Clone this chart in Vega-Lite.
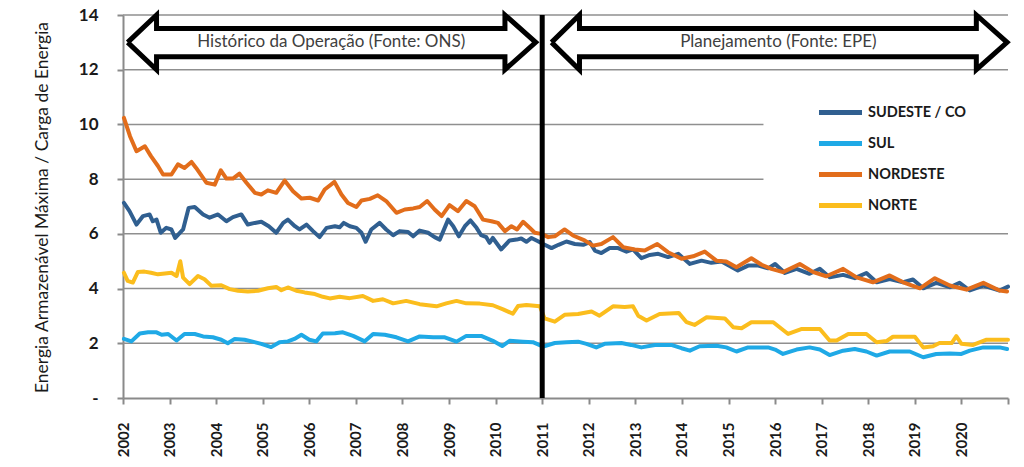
{
  "$schema": "https://vega.github.io/schema/vega-lite/v6.json",
  "width": 885,
  "height": 383,
  "autosize": {"type": "none"},
  "padding": {"left": 123, "top": 15, "right": 16, "bottom": 69},
  "background": "white",
  "config": {"view": {"stroke": null}, "font": "Lato"},
  "datasets": {
    "grid": [
      {"v": 14, "t": 2002, "t2": 2021},
      {"v": 12, "t": 2002, "t2": 2021},
      {"v": 10, "t": 2002, "t2": 2015.75},
      {"v": 8, "t": 2002, "t2": 2015.75},
      {"v": 6, "t": 2002, "t2": 2021},
      {"v": 4, "t": 2002, "t2": 2021},
      {"v": 2, "t": 2002, "t2": 2021}
    ],
    "arrows": [
      {"k": "A", "i": 0, "t": 2002.1, "v": 13},
      {"k": "A", "i": 1, "t": 2002.72, "v": 14},
      {"k": "A", "i": 2, "t": 2002.72, "v": 13.51},
      {"k": "A", "i": 3, "t": 2010.2, "v": 13.51},
      {"k": "A", "i": 4, "t": 2010.2, "v": 14},
      {"k": "A", "i": 5, "t": 2010.86, "v": 13},
      {"k": "A", "i": 6, "t": 2010.2, "v": 12},
      {"k": "A", "i": 7, "t": 2010.2, "v": 12.47},
      {"k": "A", "i": 8, "t": 2002.72, "v": 12.47},
      {"k": "A", "i": 9, "t": 2002.72, "v": 12},
      {"k": "A", "i": 10, "t": 2002.1, "v": 13},
      {"k": "B", "i": 0, "t": 2011.2, "v": 13},
      {"k": "B", "i": 1, "t": 2011.8, "v": 14},
      {"k": "B", "i": 2, "t": 2011.8, "v": 13.51},
      {"k": "B", "i": 3, "t": 2020.32, "v": 13.51},
      {"k": "B", "i": 4, "t": 2020.32, "v": 14},
      {"k": "B", "i": 5, "t": 2020.98, "v": 13},
      {"k": "B", "i": 6, "t": 2020.32, "v": 12},
      {"k": "B", "i": 7, "t": 2020.32, "v": 12.47},
      {"k": "B", "i": 8, "t": 2011.8, "v": 12.47},
      {"k": "B", "i": 9, "t": 2011.8, "v": 12},
      {"k": "B", "i": 10, "t": 2011.2, "v": 13}
    ],
    "labels": [
      {"t": 2006.47, "v": 13.02, "txt": "Histórico da Operação (Fonte: ONS)"},
      {"t": 2016.07, "v": 13.02, "txt": "Planejamento (Fonte: EPE)"}
    ],
    "divider": [{"t": 2011, "v": 0, "v2": 14}],
    "series": [
      {"s":"SUDESTE / CO","t":2002.02,"v":7.13},{"s":"SUDESTE / CO","t":2002.14,"v":6.83},{"s":"SUDESTE / CO","t":2002.29,"v":6.34},{"s":"SUDESTE / CO","t":2002.43,"v":6.65},{"s":"SUDESTE / CO","t":2002.57,"v":6.71},{"s":"SUDESTE / CO","t":2002.64,"v":6.46},{"s":"SUDESTE / CO","t":2002.72,"v":6.52},{"s":"SUDESTE / CO","t":2002.81,"v":6.04},{"s":"SUDESTE / CO","t":2002.93,"v":6.22},{"s":"SUDESTE / CO","t":2003.04,"v":6.16},{"s":"SUDESTE / CO","t":2003.12,"v":5.85},{"s":"SUDESTE / CO","t":2003.29,"v":6.16},{"s":"SUDESTE / CO","t":2003.41,"v":6.95},{"s":"SUDESTE / CO","t":2003.54,"v":6.98},{"s":"SUDESTE / CO","t":2003.72,"v":6.71},{"s":"SUDESTE / CO","t":2003.86,"v":6.59},{"s":"SUDESTE / CO","t":2004.04,"v":6.71},{"s":"SUDESTE / CO","t":2004.22,"v":6.46},{"s":"SUDESTE / CO","t":2004.36,"v":6.61},{"s":"SUDESTE / CO","t":2004.54,"v":6.71},{"s":"SUDESTE / CO","t":2004.68,"v":6.34},{"s":"SUDESTE / CO","t":2004.83,"v":6.4},{"s":"SUDESTE / CO","t":2004.97,"v":6.44},{"s":"SUDESTE / CO","t":2005.13,"v":6.28},{"s":"SUDESTE / CO","t":2005.29,"v":6.04},{"s":"SUDESTE / CO","t":2005.44,"v":6.4},{"s":"SUDESTE / CO","t":2005.54,"v":6.52},{"s":"SUDESTE / CO","t":2005.69,"v":6.28},{"s":"SUDESTE / CO","t":2005.79,"v":6.16},{"s":"SUDESTE / CO","t":2005.94,"v":6.34},{"s":"SUDESTE / CO","t":2006.08,"v":6.1},{"s":"SUDESTE / CO","t":2006.22,"v":5.88},{"s":"SUDESTE / CO","t":2006.37,"v":6.22},{"s":"SUDESTE / CO","t":2006.55,"v":6.28},{"s":"SUDESTE / CO","t":2006.65,"v":6.24},{"s":"SUDESTE / CO","t":2006.74,"v":6.4},{"s":"SUDESTE / CO","t":2006.87,"v":6.28},{"s":"SUDESTE / CO","t":2007.01,"v":6.22},{"s":"SUDESTE / CO","t":2007.12,"v":6.04},{"s":"SUDESTE / CO","t":2007.21,"v":5.71},{"s":"SUDESTE / CO","t":2007.33,"v":6.16},{"s":"SUDESTE / CO","t":2007.51,"v":6.4},{"s":"SUDESTE / CO","t":2007.65,"v":6.16},{"s":"SUDESTE / CO","t":2007.8,"v":5.95},{"s":"SUDESTE / CO","t":2007.94,"v":6.1},{"s":"SUDESTE / CO","t":2008.12,"v":6.07},{"s":"SUDESTE / CO","t":2008.23,"v":5.91},{"s":"SUDESTE / CO","t":2008.37,"v":6.12},{"s":"SUDESTE / CO","t":2008.55,"v":6.04},{"s":"SUDESTE / CO","t":2008.69,"v":5.88},{"s":"SUDESTE / CO","t":2008.8,"v":5.79},{"s":"SUDESTE / CO","t":2008.98,"v":6.52},{"s":"SUDESTE / CO","t":2009.09,"v":6.28},{"s":"SUDESTE / CO","t":2009.21,"v":5.91},{"s":"SUDESTE / CO","t":2009.34,"v":6.28},{"s":"SUDESTE / CO","t":2009.46,"v":6.49},{"s":"SUDESTE / CO","t":2009.59,"v":6.22},{"s":"SUDESTE / CO","t":2009.69,"v":5.95},{"s":"SUDESTE / CO","t":2009.8,"v":5.88},{"s":"SUDESTE / CO","t":2009.87,"v":5.67},{"s":"SUDESTE / CO","t":2009.94,"v":5.85},{"s":"SUDESTE / CO","t":2010.12,"v":5.43},{"s":"SUDESTE / CO","t":2010.3,"v":5.76},{"s":"SUDESTE / CO","t":2010.45,"v":5.79},{"s":"SUDESTE / CO","t":2010.55,"v":5.83},{"s":"SUDESTE / CO","t":2010.66,"v":5.71},{"s":"SUDESTE / CO","t":2010.77,"v":5.85},{"s":"SUDESTE / CO","t":2010.91,"v":5.73},{"s":"SUDESTE / CO","t":2011.02,"v":5.63},{"s":"SUDESTE / CO","t":2011.2,"v":5.48},{"s":"SUDESTE / CO","t":2011.35,"v":5.6},{"s":"SUDESTE / CO","t":2011.52,"v":5.72},{"s":"SUDESTE / CO","t":2011.7,"v":5.63},{"s":"SUDESTE / CO","t":2011.88,"v":5.6},{"s":"SUDESTE / CO","t":2012.02,"v":5.7},{"s":"SUDESTE / CO","t":2012.13,"v":5.39},{"s":"SUDESTE / CO","t":2012.27,"v":5.3},{"s":"SUDESTE / CO","t":2012.45,"v":5.48},{"s":"SUDESTE / CO","t":2012.63,"v":5.48},{"s":"SUDESTE / CO","t":2012.81,"v":5.35},{"s":"SUDESTE / CO","t":2012.95,"v":5.43},{"s":"SUDESTE / CO","t":2013.13,"v":5.11},{"s":"SUDESTE / CO","t":2013.31,"v":5.23},{"s":"SUDESTE / CO","t":2013.49,"v":5.27},{"s":"SUDESTE / CO","t":2013.7,"v":5.15},{"s":"SUDESTE / CO","t":2013.92,"v":5.27},{"s":"SUDESTE / CO","t":2014.17,"v":4.9},{"s":"SUDESTE / CO","t":2014.42,"v":5.02},{"s":"SUDESTE / CO","t":2014.63,"v":4.94},{"s":"SUDESTE / CO","t":2014.85,"v":4.99},{"s":"SUDESTE / CO","t":2015.2,"v":4.66},{"s":"SUDESTE / CO","t":2015.42,"v":4.84},{"s":"SUDESTE / CO","t":2015.64,"v":4.84},{"s":"SUDESTE / CO","t":2015.85,"v":4.74},{"s":"SUDESTE / CO","t":2016.0,"v":4.9},{"s":"SUDESTE / CO","t":2016.21,"v":4.57},{"s":"SUDESTE / CO","t":2016.46,"v":4.72},{"s":"SUDESTE / CO","t":2016.74,"v":4.54},{"s":"SUDESTE / CO","t":2016.96,"v":4.72},{"s":"SUDESTE / CO","t":2017.17,"v":4.41},{"s":"SUDESTE / CO","t":2017.46,"v":4.5},{"s":"SUDESTE / CO","t":2017.71,"v":4.38},{"s":"SUDESTE / CO","t":2017.96,"v":4.57},{"s":"SUDESTE / CO","t":2018.18,"v":4.23},{"s":"SUDESTE / CO","t":2018.46,"v":4.35},{"s":"SUDESTE / CO","t":2018.75,"v":4.23},{"s":"SUDESTE / CO","t":2018.96,"v":4.33},{"s":"SUDESTE / CO","t":2019.18,"v":4.01},{"s":"SUDESTE / CO","t":2019.46,"v":4.21},{"s":"SUDESTE / CO","t":2019.75,"v":4.05},{"s":"SUDESTE / CO","t":2019.96,"v":4.21},{"s":"SUDESTE / CO","t":2020.18,"v":3.93},{"s":"SUDESTE / CO","t":2020.47,"v":4.11},{"s":"SUDESTE / CO","t":2020.82,"v":3.93},{"s":"SUDESTE / CO","t":2021.0,"v":4.07},
      {"s":"SUL","t":2002.02,"v":2.16},{"s":"SUL","t":2002.18,"v":2.07},{"s":"SUL","t":2002.36,"v":2.36},{"s":"SUL","t":2002.54,"v":2.4},{"s":"SUL","t":2002.72,"v":2.4},{"s":"SUL","t":2002.83,"v":2.31},{"s":"SUL","t":2002.97,"v":2.34},{"s":"SUL","t":2003.15,"v":2.1},{"s":"SUL","t":2003.32,"v":2.34},{"s":"SUL","t":2003.54,"v":2.34},{"s":"SUL","t":2003.72,"v":2.25},{"s":"SUL","t":2003.93,"v":2.22},{"s":"SUL","t":2004.11,"v":2.13},{"s":"SUL","t":2004.25,"v":2.0},{"s":"SUL","t":2004.4,"v":2.16},{"s":"SUL","t":2004.61,"v":2.13},{"s":"SUL","t":2004.76,"v":2.07},{"s":"SUL","t":2004.97,"v":1.98},{"s":"SUL","t":2005.18,"v":1.86},{"s":"SUL","t":2005.36,"v":2.04},{"s":"SUL","t":2005.54,"v":2.07},{"s":"SUL","t":2005.68,"v":2.16},{"s":"SUL","t":2005.83,"v":2.31},{"s":"SUL","t":2006.0,"v":2.13},{"s":"SUL","t":2006.15,"v":2.07},{"s":"SUL","t":2006.29,"v":2.36},{"s":"SUL","t":2006.55,"v":2.37},{"s":"SUL","t":2006.72,"v":2.4},{"s":"SUL","t":2006.94,"v":2.27},{"s":"SUL","t":2007.19,"v":2.07},{"s":"SUL","t":2007.37,"v":2.34},{"s":"SUL","t":2007.62,"v":2.31},{"s":"SUL","t":2007.87,"v":2.22},{"s":"SUL","t":2008.12,"v":2.07},{"s":"SUL","t":2008.37,"v":2.25},{"s":"SUL","t":2008.66,"v":2.22},{"s":"SUL","t":2008.91,"v":2.22},{"s":"SUL","t":2009.16,"v":2.06},{"s":"SUL","t":2009.37,"v":2.27},{"s":"SUL","t":2009.69,"v":2.27},{"s":"SUL","t":2009.94,"v":2.09},{"s":"SUL","t":2010.14,"v":1.9},{"s":"SUL","t":2010.3,"v":2.09},{"s":"SUL","t":2010.59,"v":2.06},{"s":"SUL","t":2010.8,"v":2.04},{"s":"SUL","t":2011.02,"v":1.88},{"s":"SUL","t":2011.27,"v":2.01},{"s":"SUL","t":2011.52,"v":2.04},{"s":"SUL","t":2011.77,"v":2.06},{"s":"SUL","t":2011.95,"v":1.98},{"s":"SUL","t":2012.16,"v":1.85},{"s":"SUL","t":2012.34,"v":1.98},{"s":"SUL","t":2012.7,"v":2.01},{"s":"SUL","t":2012.91,"v":1.94},{"s":"SUL","t":2013.13,"v":1.85},{"s":"SUL","t":2013.42,"v":1.94},{"s":"SUL","t":2013.77,"v":1.94},{"s":"SUL","t":2013.99,"v":1.82},{"s":"SUL","t":2014.17,"v":1.73},{"s":"SUL","t":2014.38,"v":1.89},{"s":"SUL","t":2014.74,"v":1.91},{"s":"SUL","t":2014.95,"v":1.85},{"s":"SUL","t":2015.17,"v":1.7},{"s":"SUL","t":2015.42,"v":1.85},{"s":"SUL","t":2015.85,"v":1.85},{"s":"SUL","t":2016.0,"v":1.77},{"s":"SUL","t":2016.17,"v":1.61},{"s":"SUL","t":2016.46,"v":1.77},{"s":"SUL","t":2016.74,"v":1.85},{"s":"SUL","t":2016.96,"v":1.77},{"s":"SUL","t":2017.17,"v":1.57},{"s":"SUL","t":2017.46,"v":1.73},{"s":"SUL","t":2017.71,"v":1.79},{"s":"SUL","t":2017.96,"v":1.7},{"s":"SUL","t":2018.18,"v":1.55},{"s":"SUL","t":2018.46,"v":1.7},{"s":"SUL","t":2018.89,"v":1.7},{"s":"SUL","t":2019.18,"v":1.49},{"s":"SUL","t":2019.46,"v":1.61},{"s":"SUL","t":2019.75,"v":1.63},{"s":"SUL","t":2020.0,"v":1.61},{"s":"SUL","t":2020.18,"v":1.73},{"s":"SUL","t":2020.47,"v":1.85},{"s":"SUL","t":2020.82,"v":1.85},{"s":"SUL","t":2020.98,"v":1.79},
      {"s":"NORDESTE","t":2002.02,"v":10.24},{"s":"NORDESTE","t":2002.15,"v":9.57},{"s":"NORDESTE","t":2002.29,"v":9.02},{"s":"NORDESTE","t":2002.47,"v":9.2},{"s":"NORDESTE","t":2002.6,"v":8.84},{"s":"NORDESTE","t":2002.75,"v":8.48},{"s":"NORDESTE","t":2002.86,"v":8.17},{"s":"NORDESTE","t":2003.04,"v":8.17},{"s":"NORDESTE","t":2003.18,"v":8.54},{"s":"NORDESTE","t":2003.32,"v":8.41},{"s":"NORDESTE","t":2003.47,"v":8.63},{"s":"NORDESTE","t":2003.57,"v":8.41},{"s":"NORDESTE","t":2003.79,"v":7.87},{"s":"NORDESTE","t":2003.97,"v":7.8},{"s":"NORDESTE","t":2004.1,"v":8.32},{"s":"NORDESTE","t":2004.22,"v":8.02},{"s":"NORDESTE","t":2004.36,"v":8.02},{"s":"NORDESTE","t":2004.5,"v":8.2},{"s":"NORDESTE","t":2004.65,"v":7.87},{"s":"NORDESTE","t":2004.83,"v":7.5},{"s":"NORDESTE","t":2004.97,"v":7.44},{"s":"NORDESTE","t":2005.11,"v":7.59},{"s":"NORDESTE","t":2005.29,"v":7.5},{"s":"NORDESTE","t":2005.47,"v":7.95},{"s":"NORDESTE","t":2005.65,"v":7.56},{"s":"NORDESTE","t":2005.83,"v":7.29},{"s":"NORDESTE","t":2006.01,"v":7.32},{"s":"NORDESTE","t":2006.19,"v":7.22},{"s":"NORDESTE","t":2006.33,"v":7.62},{"s":"NORDESTE","t":2006.54,"v":7.9},{"s":"NORDESTE","t":2006.69,"v":7.44},{"s":"NORDESTE","t":2006.83,"v":7.13},{"s":"NORDESTE","t":2007.01,"v":6.98},{"s":"NORDESTE","t":2007.12,"v":7.22},{"s":"NORDESTE","t":2007.3,"v":7.28},{"s":"NORDESTE","t":2007.47,"v":7.41},{"s":"NORDESTE","t":2007.65,"v":7.2},{"s":"NORDESTE","t":2007.87,"v":6.77},{"s":"NORDESTE","t":2008.05,"v":6.89},{"s":"NORDESTE","t":2008.23,"v":6.93},{"s":"NORDESTE","t":2008.37,"v":6.98},{"s":"NORDESTE","t":2008.53,"v":7.2},{"s":"NORDESTE","t":2008.69,"v":6.89},{"s":"NORDESTE","t":2008.84,"v":6.65},{"s":"NORDESTE","t":2009.01,"v":7.05},{"s":"NORDESTE","t":2009.19,"v":6.83},{"s":"NORDESTE","t":2009.37,"v":7.2},{"s":"NORDESTE","t":2009.55,"v":7.01},{"s":"NORDESTE","t":2009.73,"v":6.52},{"s":"NORDESTE","t":2009.91,"v":6.46},{"s":"NORDESTE","t":2010.05,"v":6.4},{"s":"NORDESTE","t":2010.2,"v":6.1},{"s":"NORDESTE","t":2010.34,"v":6.28},{"s":"NORDESTE","t":2010.46,"v":6.16},{"s":"NORDESTE","t":2010.59,"v":6.44},{"s":"NORDESTE","t":2010.73,"v":6.22},{"s":"NORDESTE","t":2010.84,"v":6.04},{"s":"NORDESTE","t":2010.98,"v":6.0},{"s":"NORDESTE","t":2011.13,"v":5.88},{"s":"NORDESTE","t":2011.27,"v":5.91},{"s":"NORDESTE","t":2011.48,"v":6.16},{"s":"NORDESTE","t":2011.66,"v":5.94},{"s":"NORDESTE","t":2011.91,"v":5.76},{"s":"NORDESTE","t":2012.09,"v":5.57},{"s":"NORDESTE","t":2012.27,"v":5.63},{"s":"NORDESTE","t":2012.52,"v":5.88},{"s":"NORDESTE","t":2012.74,"v":5.51},{"s":"NORDESTE","t":2012.99,"v":5.43},{"s":"NORDESTE","t":2013.2,"v":5.39},{"s":"NORDESTE","t":2013.47,"v":5.63},{"s":"NORDESTE","t":2013.7,"v":5.33},{"s":"NORDESTE","t":2013.99,"v":5.09},{"s":"NORDESTE","t":2014.24,"v":5.18},{"s":"NORDESTE","t":2014.49,"v":5.35},{"s":"NORDESTE","t":2014.74,"v":5.02},{"s":"NORDESTE","t":2014.95,"v":4.99},{"s":"NORDESTE","t":2015.17,"v":4.78},{"s":"NORDESTE","t":2015.49,"v":5.11},{"s":"NORDESTE","t":2015.71,"v":4.87},{"s":"NORDESTE","t":2015.92,"v":4.72},{"s":"NORDESTE","t":2016.17,"v":4.6},{"s":"NORDESTE","t":2016.53,"v":4.9},{"s":"NORDESTE","t":2016.82,"v":4.6},{"s":"NORDESTE","t":2017.1,"v":4.45},{"s":"NORDESTE","t":2017.46,"v":4.72},{"s":"NORDESTE","t":2017.75,"v":4.41},{"s":"NORDESTE","t":2018.1,"v":4.23},{"s":"NORDESTE","t":2018.46,"v":4.48},{"s":"NORDESTE","t":2018.75,"v":4.23},{"s":"NORDESTE","t":2019.11,"v":4.01},{"s":"NORDESTE","t":2019.43,"v":4.38},{"s":"NORDESTE","t":2019.75,"v":4.11},{"s":"NORDESTE","t":2020.11,"v":3.96},{"s":"NORDESTE","t":2020.47,"v":4.21},{"s":"NORDESTE","t":2020.82,"v":3.93},{"s":"NORDESTE","t":2020.98,"v":3.89},
      {"s":"NORTE","t":2002.02,"v":4.58},{"s":"NORTE","t":2002.1,"v":4.28},{"s":"NORTE","t":2002.21,"v":4.22},{"s":"NORTE","t":2002.32,"v":4.61},{"s":"NORTE","t":2002.46,"v":4.62},{"s":"NORTE","t":2002.6,"v":4.58},{"s":"NORTE","t":2002.75,"v":4.52},{"s":"NORTE","t":2002.9,"v":4.55},{"s":"NORTE","t":2003.04,"v":4.58},{"s":"NORTE","t":2003.15,"v":4.46},{"s":"NORTE","t":2003.23,"v":5.0},{"s":"NORTE","t":2003.29,"v":4.4},{"s":"NORTE","t":2003.43,"v":4.16},{"s":"NORTE","t":2003.61,"v":4.46},{"s":"NORTE","t":2003.75,"v":4.34},{"s":"NORTE","t":2003.9,"v":4.1},{"s":"NORTE","t":2004.11,"v":4.12},{"s":"NORTE","t":2004.29,"v":3.98},{"s":"NORTE","t":2004.47,"v":3.92},{"s":"NORTE","t":2004.68,"v":3.89},{"s":"NORTE","t":2004.9,"v":3.92},{"s":"NORTE","t":2005.11,"v":4.01},{"s":"NORTE","t":2005.29,"v":4.06},{"s":"NORTE","t":2005.4,"v":3.94},{"s":"NORTE","t":2005.54,"v":4.04},{"s":"NORTE","t":2005.72,"v":3.92},{"s":"NORTE","t":2005.9,"v":3.86},{"s":"NORTE","t":2006.12,"v":3.8},{"s":"NORTE","t":2006.29,"v":3.7},{"s":"NORTE","t":2006.44,"v":3.64},{"s":"NORTE","t":2006.65,"v":3.7},{"s":"NORTE","t":2006.87,"v":3.65},{"s":"NORTE","t":2007.15,"v":3.73},{"s":"NORTE","t":2007.37,"v":3.55},{"s":"NORTE","t":2007.58,"v":3.61},{"s":"NORTE","t":2007.8,"v":3.46},{"s":"NORTE","t":2008.08,"v":3.55},{"s":"NORTE","t":2008.37,"v":3.43},{"s":"NORTE","t":2008.73,"v":3.35},{"s":"NORTE","t":2008.94,"v":3.46},{"s":"NORTE","t":2009.16,"v":3.55},{"s":"NORTE","t":2009.37,"v":3.46},{"s":"NORTE","t":2009.66,"v":3.45},{"s":"NORTE","t":2009.94,"v":3.39},{"s":"NORTE","t":2010.16,"v":3.24},{"s":"NORTE","t":2010.37,"v":3.08},{"s":"NORTE","t":2010.48,"v":3.36},{"s":"NORTE","t":2010.66,"v":3.4},{"s":"NORTE","t":2010.95,"v":3.35},{"s":"NORTE","t":2011.05,"v":2.91},{"s":"NORTE","t":2011.27,"v":2.79},{"s":"NORTE","t":2011.48,"v":3.04},{"s":"NORTE","t":2011.77,"v":3.07},{"s":"NORTE","t":2012.06,"v":3.16},{"s":"NORTE","t":2012.23,"v":3.01},{"s":"NORTE","t":2012.52,"v":3.35},{"s":"NORTE","t":2012.77,"v":3.33},{"s":"NORTE","t":2012.95,"v":3.35},{"s":"NORTE","t":2013.06,"v":3.01},{"s":"NORTE","t":2013.24,"v":2.83},{"s":"NORTE","t":2013.52,"v":3.07},{"s":"NORTE","t":2013.93,"v":3.11},{"s":"NORTE","t":2014.1,"v":2.77},{"s":"NORTE","t":2014.27,"v":2.67},{"s":"NORTE","t":2014.53,"v":2.95},{"s":"NORTE","t":2014.92,"v":2.91},{"s":"NORTE","t":2015.1,"v":2.59},{"s":"NORTE","t":2015.28,"v":2.55},{"s":"NORTE","t":2015.49,"v":2.77},{"s":"NORTE","t":2015.96,"v":2.77},{"s":"NORTE","t":2016.28,"v":2.34},{"s":"NORTE","t":2016.56,"v":2.52},{"s":"NORTE","t":2016.96,"v":2.52},{"s":"NORTE","t":2017.17,"v":2.1},{"s":"NORTE","t":2017.32,"v":2.1},{"s":"NORTE","t":2017.57,"v":2.34},{"s":"NORTE","t":2017.96,"v":2.34},{"s":"NORTE","t":2018.18,"v":2.04},{"s":"NORTE","t":2018.39,"v":2.08},{"s":"NORTE","t":2018.53,"v":2.24},{"s":"NORTE","t":2019.0,"v":2.24},{"s":"NORTE","t":2019.18,"v":1.85},{"s":"NORTE","t":2019.39,"v":1.89},{"s":"NORTE","t":2019.53,"v":2.01},{"s":"NORTE","t":2019.79,"v":2.01},{"s":"NORTE","t":2019.89,"v":2.26},{"s":"NORTE","t":2020.0,"v":1.98},{"s":"NORTE","t":2020.25,"v":1.94},{"s":"NORTE","t":2020.54,"v":2.13},{"s":"NORTE","t":2021.0,"v":2.13}
    ]
  },
  "encoding": {
    "x": {"field": "t", "type": "quantitative", "scale": {"domain": [2002, 2021], "nice": false, "zero": false},
      "axis": {"title": null, "values": [2002,2003,2004,2005,2006,2007,2008,2009,2010,2011,2012,2013,2014,2015,2016,2017,2018,2019,2020,2021],
        "labelExpr": "datum.value == 2021 ? '' : format(datum.value, 'd')", "labelAngle": 270, "labelAlign": "right", "labelBaseline": "middle",
        "labelFont": "Lato", "labelFontSize": 15, "labelFontWeight": "bold", "labelColor": "#1a1a1a", "labelPadding": 18,
        "domainColor": "#8a8a8a", "domainWidth": 2, "tickColor": "#8a8a8a", "tickWidth": 2, "tickSize": 6, "grid": false, "labelOverlap": false}},
    "y": {"field": "v", "type": "quantitative", "scale": {"domain": [0, 14], "nice": false},
      "axis": {"title": "Energia Armazenável Máxima  / Carga de Energia", "values": [0,2,4,6,8,10,12,14],
        "labelExpr": "datum.value == 0 ? '-' : datum.label", "labelFont": "Lato", "labelFontSize": 17, "labelFontWeight": "bold", "labelColor": "#1a1a1a",
        "labelPadding": 19, "tickSize": 6, "tickColor": "#8a8a8a", "tickWidth": 2, "domainColor": "#8a8a8a", "domainWidth": 2, "grid": false,
        "titleFont": "Lato", "titleFontSize": 17.5, "titleFontWeight": "normal", "titleColor": "#1a1a1a", "titleX": -81, "titleY": 192, "titleAngle": 270, "titleAlign": "center", "titleBaseline": "middle"}}
  },
  "layer": [
    {
      "data": {"name": "grid"},
      "mark": {"type": "rule", "stroke": "#8f8f8f", "strokeWidth": 1.5},
      "encoding": {"x2": {"field": "t2"}}
    },
    {
      "data": {"name": "arrows"},
      "mark": {"type": "line", "stroke": "#000000", "strokeWidth": 5, "strokeJoin": "miter", "clip": false},
      "encoding": {
        "detail": {"field": "k"},
        "order": {"field": "i", "type": "quantitative"}
      }
    },
    {
      "data": {"name": "labels"},
      "mark": {"type": "text", "font": "Lato", "fontSize": 17, "color": "#404040", "align": "center", "baseline": "middle"},
      "encoding": {"text": {"field": "txt"}}
    },
    {
      "data": {"name": "series"},
      "mark": {"type": "line", "strokeWidth": 4, "strokeJoin": "round", "strokeCap": "round"},
      "encoding": {
        "color": {"field": "s", "type": "nominal",
          "scale": {"domain": ["SUDESTE / CO", "SUL", "NORDESTE", "NORTE"], "range": ["#305f90", "#1fa9e6", "#e26d1b", "#fbbd1d"]},
          "legend": {"orient": "none", "legendX": 693, "legendY": 82, "title": null, "symbolType": "stroke", "symbolStrokeWidth": 5, "symbolSize": 1850,
            "labelFont": "Lato", "labelFontSize": 14.5, "labelFontWeight": "bold", "labelColor": "#1a1a1a", "labelOffset": 3, "rowPadding": 0, "clipHeight": 31, "padding": 0}}
      }
    },
    {
      "data": {"name": "divider"},
      "mark": {"type": "rule", "stroke": "#000000", "strokeWidth": 5},
      "encoding": {"y2": {"field": "v2"}}
    }
  ]
}
